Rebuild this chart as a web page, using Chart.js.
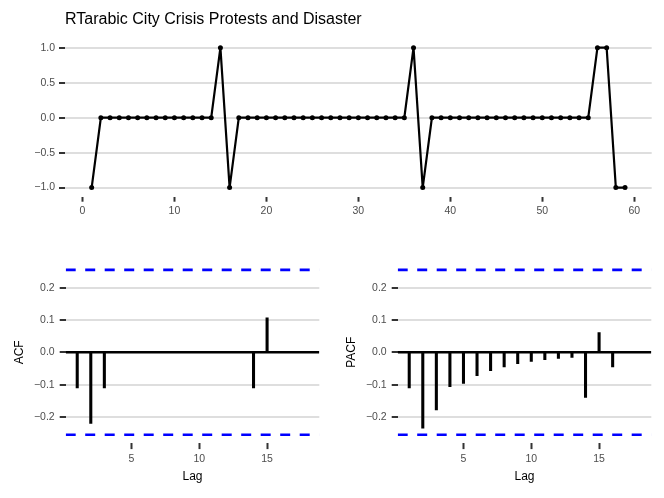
<!DOCTYPE html>
<html>
<head>
<meta charset="utf-8">
<script src="https://cdn.jsdelivr.net/npm/chart.js@4.4.0/dist/chart.umd.min.js"></script>
<style>
  body { margin: 0; background: #fff; }
  canvas { position: absolute; }
</style>
</head>
<body>
<canvas id="seriesChart" width="664" height="232" style="left:0;top:0"></canvas>
<canvas id="acfChart" width="332" height="258" style="left:0;top:240px"></canvas>
<canvas id="pacfChart" width="332" height="258" style="left:332px;top:240px"></canvas>
<script>
const chartTitle = "RTarabic City Crisis Protests and Disaster";

// time series
const timeIndex = [1, 2, 3, 4, 5, 6, 7, 8, 9, 10, 11, 12, 13, 14, 15, 16, 17, 18, 19, 20,
  21, 22, 23, 24, 25, 26, 27, 28, 29, 30, 31, 32, 33, 34, 35, 36, 37, 38, 39, 40,
  41, 42, 43, 44, 45, 46, 47, 48, 49, 50, 51, 52, 53, 54, 55, 56, 57, 58, 59];
const seriesValues = [-1, 0, 0, 0, 0, 0, 0, 0, 0, 0, 0, 0, 0, 0, 1, -1, 0, 0, 0, 0,
  0, 0, 0, 0, 0, 0, 0, 0, 0, 0, 0, 0, 0, 0, 0, 1, -1, 0, 0, 0,
  0, 0, 0, 0, 0, 0, 0, 0, 0, 0, 0, 0, 0, 0, 0, 1, 1, -1, -1];
const seriesXTicks = [0, 10, 20, 30, 40, 50, 60];
const seriesYTicks = [-1, -0.5, 0, 0.5, 1];

// correlograms
const lags = [1, 2, 3, 4, 5, 6, 7, 8, 9, 10, 11, 12, 13, 14, 15, 16, 17, 18];
const acfValues = [-0.11, -0.22, -0.11, 0, 0, 0, 0, 0, 0, 0, 0, 0, 0, -0.11, 0.107, 0, 0, 0];
const pacfValues = [-0.11, -0.235, -0.178, -0.106, -0.096, -0.072, -0.057, -0.045, -0.035,
  -0.028, -0.023, -0.019, -0.016, -0.14, 0.061, -0.045, 0, 0];
const lagTicks = [5, 10, 15];
const corrTicks = [-0.2, -0.1, 0, 0.1, 0.2];
const ciBound = 0.255;
const corrLimit = 0.281;

Chart.defaults.font.family = "'Liberation Sans', Arial, sans-serif";
Chart.defaults.animation = false;

const tickColor = '#333333';
const gridColor = '#dedede';
const labelColor = '#4d4d4d';
const tickFont = { size: 10.5 };
const axisTitleFont = { size: 12 };

const fmt1 = v => (v < 0 ? '\u2212' : '') + Math.abs(v).toFixed(1);
const fixedTicks = values => scale => { scale.ticks = values.map(v => ({ value: v })); };

new Chart(document.getElementById('seriesChart'), {
  type: 'line',
  data: {
    datasets: [{
      data: timeIndex.map((t, i) => ({ x: t, y: seriesValues[i] })),
      borderColor: '#000',
      borderWidth: 2.2,
      pointRadius: 2.5,
      pointBorderWidth: 0,
      pointBackgroundColor: '#000',
      tension: 0,
    }],
  },
  options: {
    responsive: false,
    layout: { padding: { top: 0, right: 12.3, bottom: 0, left: 0 } },
    plugins: {
      legend: { display: false },
      tooltip: { enabled: false },
      title: {
        display: true,
        text: chartTitle,
        align: 'start',
        fullSize: false,
        color: '#000',
        font: { size: 16, weight: 'normal' },
        padding: { top: 9.9, bottom: 11.6 },
      },
    },
    scales: {
      x: {
        type: 'linear',
        min: -1.9,
        max: 61.9,
        afterBuildTicks: fixedTicks(seriesXTicks),
        afterFit: s => { s.height = 35.3; },
        border: { display: false },
        grid: { drawOnChartArea: false, tickLength: 5, tickWidth: 2, tickColor: tickColor },
        ticks: { color: labelColor, font: tickFont, padding: 3, maxRotation: 0, autoSkip: false },
      },
      y: {
        min: -1.13,
        max: 1.1,
        afterBuildTicks: fixedTicks(seriesYTicks),
        afterFit: s => { s.width = 65; },
        border: { display: false },
        grid: { color: gridColor, lineWidth: 2, tickLength: 6, tickWidth: 2, tickColor: tickColor },
        ticks: { color: labelColor, font: tickFont, padding: 4, callback: fmt1 },
      },
    },
  },
});

const corrChart = (id, values, yTitle) => {
  const span = lags[lags.length - 1] - lags[0];
  const lagMin = lags[0] - 0.05 * span;
  const lagMax = lags[lags.length - 1] + 0.05 * span;
  const hline = (y, color, width, dash) => ({
    type: 'line',
    data: [{ x: lagMin, y: y }, { x: lagMax, y: y }],
    borderColor: color,
    borderWidth: width,
    borderDash: dash,
    pointRadius: 0,
  });
  return new Chart(document.getElementById(id), {
    type: 'bar',
    data: {
      datasets: [
        hline(0, '#000', 2.4, []),
        hline(ciBound, '#0000ff', 2.6, [10, 9.5]),
        hline(-ciBound, '#0000ff', 2.6, [10, 9.5]),
        {
          data: lags.map((l, i) => ({ x: l, y: values[i] })),
          backgroundColor: '#000',
          borderWidth: 0,
          barThickness: 2.4,
        },
      ],
    },
    options: {
      responsive: false,
      layout: { padding: { top: 21.5, right: 12.7, bottom: 0, left: 0 } },
      plugins: { legend: { display: false }, tooltip: { enabled: false } },
      scales: {
        x: {
          type: 'linear',
          min: lagMin,
          max: lagMax,
          offset: false,
          afterBuildTicks: fixedTicks(lagTicks),
          afterFit: s => { s.height = 54.9; },
          border: { display: false },
          grid: { offset: false, drawOnChartArea: false, tickLength: 6, tickWidth: 2, tickColor: tickColor },
          ticks: { color: labelColor, font: tickFont, padding: 3.7, maxRotation: 0, autoSkip: false },
          title: { display: true, text: 'Lag', color: '#000', font: axisTitleFont, padding: { top: 0, bottom: 14.3 } },
        },
        y: {
          min: -corrLimit,
          max: corrLimit,
          afterBuildTicks: fixedTicks(corrTicks),
          afterFit: s => { s.width = 65.7; },
          border: { display: false },
          grid: { color: gridColor, lineWidth: 2, tickLength: 6, tickWidth: 2, tickColor: tickColor },
          ticks: { color: labelColor, font: tickFont, padding: 5, callback: fmt1 },
          title: { display: true, text: yTitle, color: '#000', font: axisTitleFont, padding: { top: 12.8, bottom: 0 } },
        },
      },
    },
  });
};

corrChart('acfChart', acfValues, 'ACF');
corrChart('pacfChart', pacfValues, 'PACF');
</script>
</body>
</html>
